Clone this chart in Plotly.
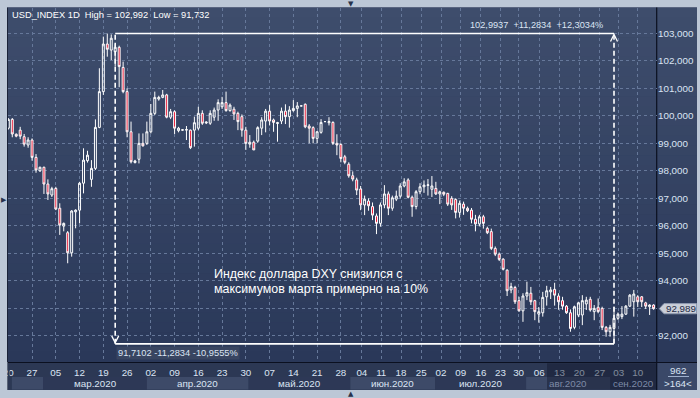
import plotly.graph_objects as go

# ---------------- data ----------------
opens = [99.55, 99.87, 99.33, 99.48, 99.24, 98.94, 99.12, 98.49, 98.00, 98.13,
         97.52, 97.12, 97.36, 96.64, 95.99, 95.75, 95.02, 96.51, 96.57, 97.55,
         98.37, 97.69, 98.09, 99.58, 100.88, 102.61, 102.39, 102.33, 102.49, 101.76,
         100.88, 99.42, 98.30, 98.42, 99.00, 99.00, 99.42, 100.09, 100.61, 100.67,
         100.76, 99.95, 100.15, 99.46, 99.48, 99.48, 99.48, 99.48, 99.55, 100.09,
         99.74, 99.73, 99.95, 100.21, 100.33, 100.48, 100.19, 100.24, 100.09, 99.97,
         99.48, 98.97, 99.04, 99.08, 99.55, 99.81, 100.17, 99.85, 99.72, 99.81,
         100.17, 99.97, 100.19, 100.27, 100.36, 100.42, 99.63, 99.57, 99.18, 99.40,
         99.79, 99.75, 99.76, 99.00, 98.96, 98.51, 98.24, 97.82, 97.67, 97.34,
         96.76, 96.90, 96.70, 96.36, 96.09, 96.76, 97.16, 96.64, 96.97, 97.08,
         97.45, 97.67, 97.04, 96.70, 97.24, 97.42, 97.47, 97.33, 97.36, 97.16,
         97.22, 97.18, 97.00, 96.96, 96.49, 96.79, 96.64, 96.57, 96.24, 96.07,
         96.33, 95.91, 95.79, 95.18, 94.97, 94.79, 94.39, 93.67, 93.76, 93.28,
         92.91, 93.45, 93.55, 93.28, 92.79, 92.84, 93.42, 93.60, 93.69, 93.45,
         93.28, 93.08, 92.84, 92.31, 92.76, 92.76, 93.16, 93.33, 92.88, 93.04,
         93.00, 92.31, 92.15, 92.27, 92.64, 92.70, 92.79, 93.08, 93.24, 93.42,
         93.42, 93.20, 93.06, 93.12]
highs = [99.92, 99.92, 99.36, 99.60, 99.34, 99.22, 99.18, 98.61, 98.15, 98.15,
         97.69, 97.42, 97.42, 96.82, 96.12, 95.81, 96.57, 96.60, 97.60, 98.82,
         98.73, 98.39, 99.87, 101.73, 102.88, 102.99, 102.96, 102.60, 102.55, 101.97,
         101.00, 99.79, 98.40, 99.36, 99.36, 99.79, 100.43, 100.88, 100.73, 100.94,
         100.80, 100.25, 100.20, 99.60, 99.50, 99.63, 99.50, 99.97, 100.33, 100.20,
         99.80, 100.20, 100.30, 100.60, 100.69, 100.88, 100.45, 100.33, 100.15, 100.05,
         99.60, 99.30, 99.10, 99.62, 99.95, 100.25, 100.39, 99.90, 99.78, 100.30,
         100.42, 100.35, 100.57, 100.50, 100.37, 100.45, 99.70, 99.62, 99.45, 99.88,
         99.80, 99.95, 99.80, 99.33, 99.00, 98.58, 98.31, 97.98, 97.75, 97.45,
         97.10, 97.00, 96.85, 96.45, 96.85, 97.48, 97.25, 97.10, 97.28, 97.55,
         97.73, 97.73, 97.10, 97.30, 97.55, 97.65, 97.70, 97.81, 97.60, 97.28,
         97.25, 97.20, 97.08, 97.00, 96.92, 96.88, 96.70, 96.65, 96.40, 96.40,
         96.40, 95.97, 95.90, 95.25, 95.03, 94.82, 94.42, 93.93, 93.82, 93.42,
         93.55, 93.97, 93.78, 93.31, 93.05, 93.60, 93.82, 93.78, 93.93, 93.55,
         93.42, 93.12, 92.96, 93.10, 93.24, 93.48, 93.42, 93.42, 93.12, 93.36,
         93.06, 92.36, 92.40, 93.06, 92.85, 93.08, 93.12, 93.52, 93.67, 93.48,
         93.45, 93.24, 93.15, 93.15]
lows = [99.50, 99.22, 99.22, 99.15, 98.88, 98.84, 98.37, 97.93, 97.96, 97.16,
        96.94, 97.05, 96.57, 95.67, 95.80, 94.64, 94.88, 95.91, 96.09, 97.18,
        98.30, 97.42, 98.03, 99.55, 100.76, 102.15, 102.03, 101.79, 101.04, 100.82,
        99.22, 98.27, 98.27, 98.27, 98.88, 98.94, 99.36, 100.03, 100.55, 100.64,
        99.91, 99.88, 99.34, 99.40, 99.46, 99.12, 98.79, 98.88, 99.48, 99.67,
        99.70, 99.67, 99.82, 99.82, 100.25, 100.15, 100.15, 99.85, 99.48, 99.24,
        98.76, 98.84, 98.76, 99.02, 99.30, 99.40, 99.65, 99.42, 99.06, 99.70,
        99.70, 99.57, 100.15, 99.95, 100.35, 99.55, 99.00, 99.00, 99.00, 99.35,
        99.78, 99.65, 98.94, 98.57, 98.31, 98.24, 97.75, 97.62, 97.12, 96.57,
        96.39, 96.55, 96.21, 95.70, 95.97, 96.64, 96.39, 96.55, 96.90, 97.00,
        97.40, 97.00, 96.33, 96.60, 97.15, 97.20, 97.10, 97.05, 97.12, 96.79,
        97.08, 96.72, 96.58, 96.27, 96.30, 96.40, 96.50, 96.09, 95.80, 95.98,
        95.90, 95.70, 95.12, 94.90, 94.72, 94.38, 93.45, 93.55, 93.16, 92.88,
        92.51, 93.30, 93.12, 92.57, 92.48, 92.70, 93.10, 93.34, 93.10, 92.95,
        92.95, 92.80, 92.15, 92.24, 92.68, 92.39, 92.94, 92.88, 92.57, 92.82,
        92.21, 91.97, 91.97, 91.73, 92.58, 92.61, 92.76, 93.05, 92.70, 93.05,
        93.05, 92.98, 92.76, 92.95]
closes = [99.87, 99.34, 99.26, 99.26, 98.97, 99.12, 98.49, 98.03, 98.13, 97.52,
          97.16, 97.35, 96.61, 96.03, 96.09, 95.02, 96.54, 96.57, 97.55, 98.39,
          98.57, 98.09, 99.58, 100.88, 102.61, 102.42, 102.82, 102.49, 101.79, 100.88,
          99.42, 98.33, 98.36, 99.00, 98.91, 99.42, 100.09, 100.67, 100.67, 100.76,
          99.95, 100.15, 99.55, 99.55, 99.49, 99.50, 98.84, 99.75, 100.09, 99.73,
          99.77, 100.09, 100.21, 100.48, 100.48, 100.19, 100.39, 100.07, 99.79, 99.48,
          99.00, 99.04, 98.76, 99.57, 99.85, 100.17, 99.81, 99.76, 99.75, 100.17,
          99.97, 100.21, 100.27, 100.36, 100.36, 99.60, 99.55, 99.18, 99.42, 99.76,
          99.79, 99.79, 99.00, 98.94, 98.45, 98.31, 97.82, 97.70, 97.30, 96.76,
          96.97, 96.73, 96.39, 96.09, 96.76, 97.16, 96.64, 97.02, 97.08, 97.45,
          97.60, 97.04, 96.70, 97.24, 97.42, 97.48, 97.49, 97.45, 97.16, 97.24,
          97.15, 96.79, 96.76, 96.49, 96.82, 96.64, 96.55, 96.24, 96.07, 96.33,
          96.09, 95.75, 95.18, 94.97, 94.78, 94.42, 93.64, 93.79, 93.24, 92.91,
          93.45, 93.57, 93.24, 92.88, 92.88, 93.40, 93.64, 93.67, 93.48, 93.24,
          93.08, 92.84, 92.27, 93.06, 93.20, 93.28, 93.30, 92.94, 93.00, 92.88,
          92.31, 92.15, 92.31, 92.64, 92.79, 92.79, 93.08, 93.48, 93.52, 93.24,
          93.24, 93.08, 93.12, 92.989]
bar_idx = list(range(len(opens)))

day_tick_pos = [0, 6, 12, 18, 24, 30, 36, 42, 48, 54, 60, 66, 72, 78, 84,
                89.3, 94.2, 99.2, 104.3, 109.3, 114.3, 119.4, 124.3, 128.9,
                134.1, 139.2, 144.2, 149.4, 154.2, 159.0]
day_tick_text = ["20", "27", "05", "12", "19", "26", "02", "09", "16", "23", "30",
                 "07", "14", "21", "28", "04", "11", "18", "25", "02", "09", "16",
                 "23", "30", "06", "13", "20", "27", "03", "10"]
month_bounds = [0.9, 8.8, 35.0, 60.7, 86.4, 107.8, 130.8, 152.1, 163.86]
month_labels = ["", "мар.2020", "апр.2020", "май.2020", "июн.2020", "июл.2020",
                "авг.2020", "сен.2020"]
price_ticks = [92, 93, 94, 95, 96, 97, 98, 99, 100, 101, 102, 103]
price_tick_text = ["92,000", "", "94,000", "95,000", "96,000", "97,000", "98,000",
                   "99,000", "100,000", "101,000", "102,000", "103,000"]

meas_start, meas_end = 27, 153
meas_high, meas_low = 102.9937, 91.7102
meas_top_text = "102,9937  +11,2834  +12,3034%"
meas_bot_text = "91,7102 -11,2834 -10,9555%"
title_text = "USD_INDEX 1D  High = 102,992  Low = 91,732"
note_lines = ["Индекс доллара DXY снизился с", "максимумов марта примерно на 10%"]
bars_total, bars_visible = "962", ">164<"

# ---------------- layout helpers ----------------
W, H = 700, 398
ML, MR, MT, MB = 8, 43, 8, 36
PW, PH = W - ML - MR, H - MT - MB
XR = [-0.08, 163.86]
YR = [91.05, 103.92]

def fx(px):
    return (px - ML) / PW

def fy(py):
    return (H - MB - py) / PH

FRAME = "#bcc7d6"
UI = "Liberation Sans, Arial"
REG = "Liberation Sans, Arial"
TXT = "#dbe4f3"
FS = 9.8

fig = go.Figure()
fig.add_trace(go.Candlestick(
    x=bar_idx, open=opens, high=highs, low=lows, close=closes,
    increasing=dict(line=dict(color="#ffffff", width=1), fillcolor="rgba(0,0,0,0)"),
    decreasing=dict(line=dict(color="#ffffff", width=1), fillcolor="#e8102f"),
    whiskerwidth=0, showlegend=False, hoverinfo="skip"))

shapes = []
shapes.append(dict(type="rect", xref="paper", yref="paper", x0=fx(7.5), x1=fx(697),
                   y0=fy(390), y1=fy(7.5), fillcolor="#2c3854", line_width=0, layer="below"))
N = 36
top = (62, 77, 108)
bot = (42, 56, 89)
for k in range(N):
    t = (k + 0.5) / N
    c = tuple(int(round(top[j] + (bot[j] - top[j]) * t)) for j in range(3))
    y1 = 1 - k / N
    y0 = 1 - (k + 1) / N
    shapes.append(dict(type="rect", xref="paper", yref="paper", x0=fx(7.5), x1=fx(697),
                       y0=y0 - 0.001, y1=y1 + (0.0015 if k == 0 else 0.001),
                       fillcolor="rgb(%d,%d,%d)" % c, line_width=0, layer="below"))
for m in range(len(month_bounds) - 1):
    col = "#3d4a68" if m % 2 == 0 else "#2d3856"
    shapes.append(dict(type="rect", xref="x", yref="paper", x0=month_bounds[m], x1=month_bounds[m + 1],
                       y0=fy(389.5), y1=fy(377), fillcolor=col, line_width=0, layer="below"))
shapes.append(dict(type="rect", xref="paper", yref="paper", x0=fx(657), x1=fx(697),
                   y0=fy(390), y1=fy(362), fillcolor="#3a4868", line_width=0, layer="below"))
shapes.append(dict(type="line", xref="paper", yref="paper", x0=fx(656.7), x1=fx(656.7),
                   y0=fy(390), y1=fy(7.5), line=dict(color="#0b1020", width=1.2), layer="below"))
shapes.append(dict(type="line", xref="paper", yref="paper", x0=fx(7.5), x1=fx(697),
                   y0=fy(362.5), y1=fy(362.5), line=dict(color="#0b1020", width=1.2), layer="below"))
shapes.append(dict(type="line", xref="paper", yref="paper", x0=fx(7.5), x1=fx(7.5),
                   y0=fy(390), y1=fy(7.5), line=dict(color="#1a2238", width=1), layer="below"))
# measurement tool
shapes.append(dict(type="line", xref="x", yref="y", x0=meas_start, x1=meas_end, y0=meas_high, y1=meas_high,
                   line=dict(color="#ffffff", width=1.6)))
shapes.append(dict(type="line", xref="x", yref="y", x0=meas_start, x1=meas_end, y0=meas_low, y1=meas_low,
                   line=dict(color="#ffffff", width=1.6)))
for xi in (meas_start, meas_end):
    shapes.append(dict(type="line", xref="x", yref="y", x0=xi, x1=xi, y0=meas_low, y1=meas_high,
                       line=dict(color="#ffffff", width=1.6, dash="5px,3px")))
shapes.append(dict(type="path", xref="x", yref="y", xsizemode="pixel", ysizemode="pixel",
                   xanchor=meas_start, yanchor=meas_low, path="M -3.5 8 L 0 1 L 3.5 8",
                   line=dict(color="#ffffff", width=1.3)))
shapes.append(dict(type="path", xref="x", yref="y", xsizemode="pixel", ysizemode="pixel",
                   xanchor=meas_end, yanchor=meas_high, path="M -3.5 -8 L 0 -1 L 3.5 -8",
                   line=dict(color="#ffffff", width=1.3)))
# price tag
last = closes[-1]
shapes.append(dict(type="path", xref="paper", yref="y",
                   path="M %f,%f L %f,%f L %f,%f L %f,%f L %f,%f Z" % (
                       fx(659.3), last, fx(664), last + 0.185, fx(696.5), last + 0.185,
                       fx(696.5), last - 0.185, fx(664), last - 0.185),
                   fillcolor="#c9ced8", line=dict(color="#8e9ab0", width=1), layer="above"))
shapes.append(dict(type="rect", xref="paper", yref="paper", x0=fx(547), x1=fx(656.2),
                   y0=fy(389.5), y1=fy(363.2), fillcolor="rgba(18,25,45,0.45)", line_width=0, layer="above"))
shapes.append(dict(type="rect", xref="paper", yref="paper", x0=fx(7.9), x1=fx(9.6),
                   y0=fy(377), y1=fy(363.2), fillcolor="#2c3854", line_width=0, layer="above"))
shapes.append(dict(type="rect", xref="paper", yref="paper", x0=fx(0), x1=fx(7.4),
                   y0=fy(398), y1=fy(362), fillcolor=FRAME, line_width=0, layer="above"))
shapes.append(dict(type="line", xref="paper", yref="paper", x0=fx(668), x1=fx(689),
                   y0=fy(376.5), y1=fy(376.5), line=dict(color="#9fb0cc", width=1), layer="above"))

ann = []
ann.append(dict(text=title_text, xref="paper", yref="paper", x=fx(10), y=fy(15),
                xanchor="left", yanchor="middle", showarrow=False,
                font=dict(family=UI, size=9.3, color="#ffffff")))
ann.append(dict(text=meas_top_text, xref="x", yref="y", x=meas_end, y=meas_high,
                xanchor="right", yanchor="middle", xshift=-9, yshift=8, showarrow=False,
                font=dict(family=UI, size=9.2, color=TXT)))
ann.append(dict(text=meas_bot_text, xref="x", yref="y", x=meas_start, y=meas_low,
                xanchor="left", yanchor="middle", xshift=1, yshift=-9, showarrow=False,
                bgcolor="rgba(58,70,98,0.95)", borderpad=1,
                font=dict(family=UI, size=9.3, color=TXT)))
for k, line in enumerate(note_lines):
    ann.append(dict(text=line, xref="paper", yref="paper", x=fx(212), y=fy(273.5 + 15 * k),
                    xanchor="left", yanchor="middle", showarrow=False,
                    font=dict(family=REG, size=12.4, color="#ffffff")))
for m in range(1, len(month_bounds) - 1):
    dim = month_bounds[m] >= 130
    ann.append(dict(text=month_labels[m], xref="x", yref="paper",
                    x=(month_bounds[m] + month_bounds[m + 1]) / 2, y=fy(383),
                    xanchor="center", yanchor="middle", showarrow=False,
                    font=dict(family=UI, size=FS, color="#7d8aa6" if dim else TXT)))
ann.append(dict(text=("%.3f" % last).replace(".", ","), xref="paper", yref="y", x=fx(680.5), y=last,
                xanchor="center", yanchor="middle", showarrow=False,
                font=dict(family=UI, size=FS, color="#1d2945")))
ann.append(dict(text=bars_total, xref="paper", yref="paper", x=fx(678.5), y=fy(370),
                xanchor="center", yanchor="middle", showarrow=False,
                font=dict(family=UI, size=FS, color=TXT)))
ann.append(dict(text=bars_visible, xref="paper", yref="paper", x=fx(678.5), y=fy(383.5),
                xanchor="center", yanchor="middle", showarrow=False,
                font=dict(family=UI, size=FS, color=TXT)))
for txt, px, py in (("▼", 351, 3.5), ("▲", 351, 394), ("▶", 3.5, 200)):
    ann.append(dict(text=txt, xref="paper", yref="paper", x=fx(px), y=fy(py),
                    xanchor="center", yanchor="middle", showarrow=False,
                    font=dict(family="DejaVu Sans", size=7, color="#27324c")))

fig.update_layout(
    width=W, height=H, margin=dict(l=ML, r=MR, t=MT, b=MB, pad=0, autoexpand=False),
    paper_bgcolor=FRAME, plot_bgcolor="rgba(0,0,0,0)",
    font=dict(family=UI, size=FS, color=TXT),
    showlegend=False, boxgap=0.3,
    shapes=shapes, annotations=ann,
    xaxis=dict(range=XR, rangeslider=dict(visible=False), tickmode="array",
               tickvals=day_tick_pos, ticktext=day_tick_text, showgrid=True,
               gridcolor="#66789a", griddash="3px,3px", gridwidth=1, zeroline=False,
               showline=False, ticks="", ticklabelstandoff=3,
               tickfont=dict(family=UI, size=FS, color=TXT),
               fixedrange=True, automargin=False),
    yaxis=dict(range=YR, side="right", tickmode="array", tickvals=price_ticks,
               ticktext=price_tick_text, showgrid=True, gridcolor="#66789a",
               griddash="3px,3px", gridwidth=1, zeroline=False, showline=False, ticks="",
               tickfont=dict(family=UI, size=FS, color=TXT), fixedrange=True, automargin=False),
)

fig.write_html("out.html", config={"displayModeBar": False, "staticPlot": True},
               post_script="document.body.style.margin='0px';document.body.style.padding='0px';"
                           "document.documentElement.style.overflow='hidden';")
